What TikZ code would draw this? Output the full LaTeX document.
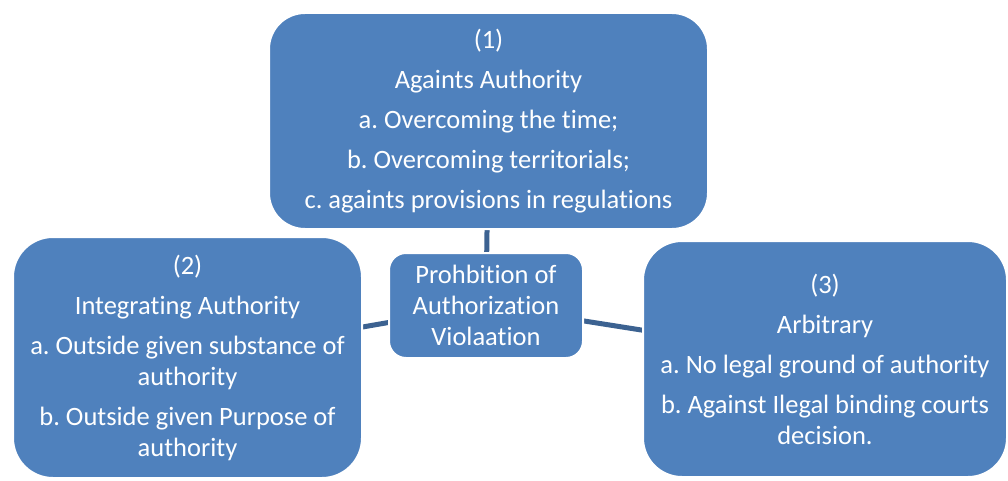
\documentclass[tikz,border=0pt]{standalone}
\usepackage{fontspec}
\setmainfont[Ligatures={NoCommon}]{Carlito}
\usetikzlibrary{backgrounds}
\definecolor{boxblue}{RGB}{79,129,189}
\definecolor{linkblue}{RGB}{60,98,145}
\tikzset{
  box/.style={rectangle, fill=boxblue, draw=white, line width=2pt, text=white,
    align=center, inner sep=0pt, font=\fontsize{26.5}{31}\selectfont},
  link/.style={draw=linkblue, line width=5pt}
}
\frenchspacing
\begin{document}
\begin{tikzpicture}[x=1pt,y=-1pt]
\useasboundingbox (0,0) rectangle (1008,481);
\node[box, minimum width=439pt, minimum height=216pt, rounded corners=36pt] (top) at (488.5,121)
  {(1)\\[9pt] Againts Authority\\[9pt] a. Overcoming the time;\\[9pt] b. Overcoming territorials;\\[9pt] c. againts provisions in regulations};
\node[box, minimum width=349pt, minimum height=241pt, rounded corners=40pt] (left) at (187.5,357.5)
  {(2)\\[9pt] Integrating Authority\\[9pt] a. Outside given substance of\\ authority\\[9pt] b. Outside given Purpose of\\ authority};
\node[box, minimum width=364pt, minimum height=236pt, rounded corners=39pt] (right) at (825,359)
  {(3)\\[9pt] Arbitrary\\[9pt] a. No legal ground of authority\\[9pt] b. Against Ilegal binding courts\\ decision.};
\node[box, minimum width=194pt, minimum height=105pt, rounded corners=17pt] (center) at (486,305.5)
  {Prohbition of\\ Authorization\\ Violaation};
\begin{pgfonlayer}{background}
\draw[link] (center.center) -- (top.center);
\draw[link] (center.center) -- (left.center);
\draw[link] (center.center) -- (right.center);
\end{pgfonlayer}
\end{tikzpicture}
\end{document}
